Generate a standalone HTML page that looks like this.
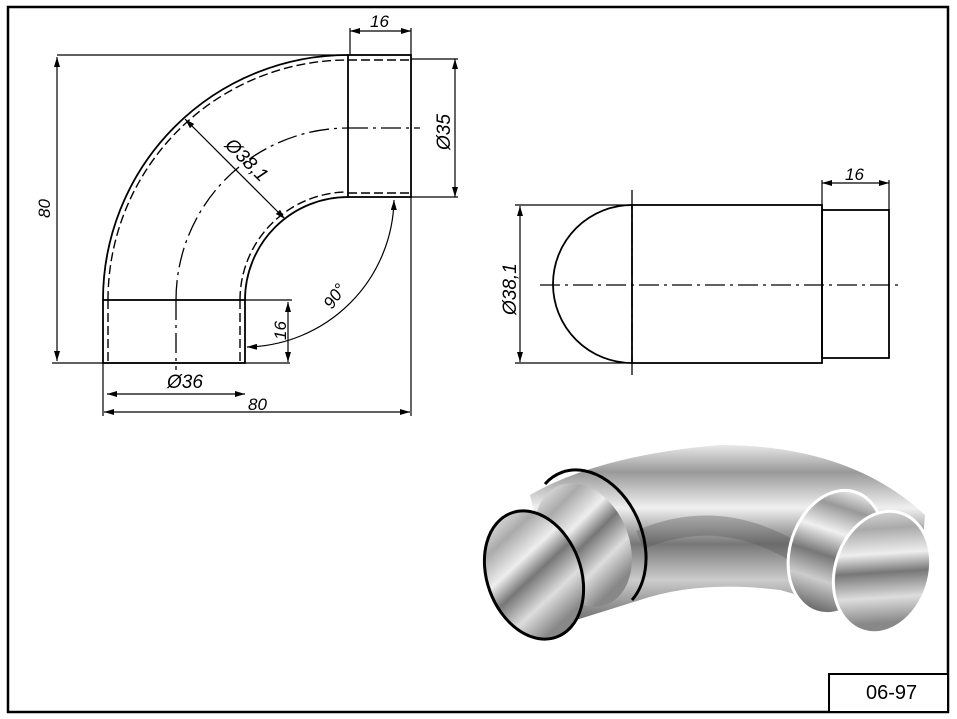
<!DOCTYPE html>
<html><head><meta charset="utf-8"><style>
html,body{margin:0;padding:0;background:#fff}
svg{display:block}
text{font-family:"Liberation Sans",sans-serif;font-style:italic;fill:#000}
</style></head><body>
<svg width="957" height="719" viewBox="0 0 957 719" xmlns="http://www.w3.org/2000/svg">
<defs>
<marker id="a" viewBox="0 0 10 6" refX="10" refY="3" markerWidth="11" markerHeight="6" orient="auto-start-reverse" markerUnits="userSpaceOnUse"><path d="M0,0 L10,3 L0,6z" fill="#000"/></marker>
<linearGradient id="g1" x1="0" y1="0" x2="0" y2="1">
<stop offset="0" stop-color="#e8e8e8"/><stop offset="0.15" stop-color="#999"/><stop offset="0.35" stop-color="#f0f0f0"/><stop offset="0.55" stop-color="#777"/><stop offset="0.75" stop-color="#ccc"/><stop offset="1" stop-color="#666"/></linearGradient>
<linearGradient id="g2" x1="0" y1="0" x2="0.3" y2="1">
<stop offset="0" stop-color="#f6f6f6"/><stop offset="0.25" stop-color="#aaa"/><stop offset="0.45" stop-color="#eee"/><stop offset="0.6" stop-color="#777"/><stop offset="0.8" stop-color="#ddd"/><stop offset="1" stop-color="#888"/></linearGradient>
</defs>
<rect x="8" y="7" width="940" height="705" fill="none" stroke="#000" stroke-width="2.5"/>
<rect x="829" y="674" width="119" height="38" fill="#fff" stroke="#000" stroke-width="2"/>
<text x="866" y="699" style="font-style:normal;font-size:20px">06-97</text>

<g fill="none" stroke="#000" stroke-width="1.8">
<path d="M103,300 A245,245 0 0 1 348,55"/>
<path d="M245,300 A103,103 0 0 1 348,197"/>
<g stroke-dasharray="9,4" stroke-width="1.4">
<path d="M108,300 A240,240 0 0 1 348,60"/>
<path d="M240,300 A108,108 0 0 1 348,192"/>
<line x1="348" y1="60" x2="411" y2="60"/><line x1="348" y1="193" x2="411" y2="193"/>
<line x1="108" y1="300" x2="108" y2="363"/><line x1="240" y1="300" x2="240" y2="363"/>
</g>
<g stroke-dasharray="20,5,3,5" stroke-width="1.3">
<path d="M176,300 A172,172 0 0 1 348,128"/>
<line x1="348" y1="128" x2="420" y2="128"/>
<line x1="176" y1="300" x2="176" y2="370"/>
</g>
<rect x="348" y="55" width="63" height="142"/>
<rect x="103" y="300" width="142" height="63"/>
<g stroke-width="1.2">
<line x1="57" y1="55" x2="348" y2="55"/><line x1="52" y1="363" x2="290" y2="363"/>
<line x1="57" y1="57" x2="57" y2="361" marker-start="url(#a)" marker-end="url(#a)"/>
<line x1="350" y1="28" x2="350" y2="55"/><line x1="411" y1="28" x2="411" y2="55"/>
<line x1="350" y1="31" x2="411" y2="31" marker-start="url(#a)" marker-end="url(#a)"/>
<line x1="411" y1="59" x2="458" y2="59"/><line x1="411" y1="197" x2="458" y2="197"/>
<line x1="455" y1="59" x2="455" y2="197" marker-start="url(#a)" marker-end="url(#a)"/>
<line x1="107" y1="394" x2="245" y2="394" marker-start="url(#a)" marker-end="url(#a)"/>
<line x1="103" y1="363" x2="103" y2="416"/><line x1="411" y1="197" x2="411" y2="416"/>
<line x1="104" y1="412" x2="410" y2="412" marker-start="url(#a)" marker-end="url(#a)"/>
<line x1="245" y1="300" x2="292" y2="300"/>
<line x1="288" y1="302" x2="288" y2="362" marker-start="url(#a)" marker-end="url(#a)"/>
<path d="M394,200 A150,150 0 0 1 247,347" marker-start="url(#a)" marker-end="url(#a)"/>
<line x1="185" y1="119" x2="285" y2="219" marker-start="url(#a)" marker-end="url(#a)"/>
</g>
<rect x="632" y="205" width="190" height="158"/>
<path d="M632,205 A79,79 0 0 0 632,363"/>
<rect x="822" y="210" width="67" height="148"/>
<g stroke-dasharray="20,5,3,5" stroke-width="1.3">
<line x1="540" y1="285" x2="902" y2="285"/>
<line x1="632" y1="190" x2="632" y2="377"/>
</g>
<g stroke-width="1.2">
<line x1="515" y1="205" x2="632" y2="205"/><line x1="515" y1="363" x2="632" y2="363"/>
<line x1="520" y1="206" x2="520" y2="362" marker-start="url(#a)" marker-end="url(#a)"/>
<line x1="822" y1="180" x2="822" y2="210"/><line x1="889" y1="180" x2="889" y2="210"/>
<line x1="822" y1="183" x2="889" y2="183" marker-start="url(#a)" marker-end="url(#a)"/>
</g>
</g>
<text x="50" y="218" font-size="17" transform="rotate(-90 50 218)">80</text>
<text x="370" y="27" font-size="17">16</text>
<text x="450" y="150" font-size="19" transform="rotate(-90 450 150)">Ø35</text>
<text x="167" y="388" font-size="19">Ø36</text>
<text x="248" y="410" font-size="17">80</text>
<text x="286" y="340" font-size="17" transform="rotate(-90 286 340)">16</text>
<text x="332" y="310" font-size="17" transform="rotate(-55 332 310)">90°</text>
<text x="224" y="146" font-size="19" transform="rotate(45 224 146)">Ø38,1</text>
<text x="516" y="315" font-size="19" transform="rotate(-90 516 315)">Ø38,1</text>
<text x="845" y="180" font-size="17">16</text>

<!-- 3D photo -->
<path d="M530,495 Q600,455 720,445 Q850,445 925,515 L920,575 L860,625 Q820,600 780,590 Q700,580 640,600 L560,625 Z" fill="url(#g1)"/>
<path d="M640,540 Q720,505 800,555" stroke="#555" stroke-width="20" fill="none" opacity="0.35"/>
<ellipse cx="583" cy="545" rx="46" ry="64" fill="url(#g2)" transform="rotate(-22 583 545)"/>
<path d="M545,484 A48,66 -22 0 1 632,600" fill="none" stroke="#000" stroke-width="3"/>
<ellipse cx="534" cy="575" rx="47" ry="66" fill="url(#g2)" stroke="#000" stroke-width="3" transform="rotate(-20 534 575)"/>
<ellipse cx="836" cy="552" rx="46" ry="63" fill="url(#g1)" stroke="#fff" stroke-width="3" transform="rotate(18 836 552)"/>
<ellipse cx="882" cy="572" rx="47" ry="62" fill="url(#g2)" stroke="#fff" stroke-width="3" transform="rotate(18 882 572)"/>
</svg>
</body></html>
